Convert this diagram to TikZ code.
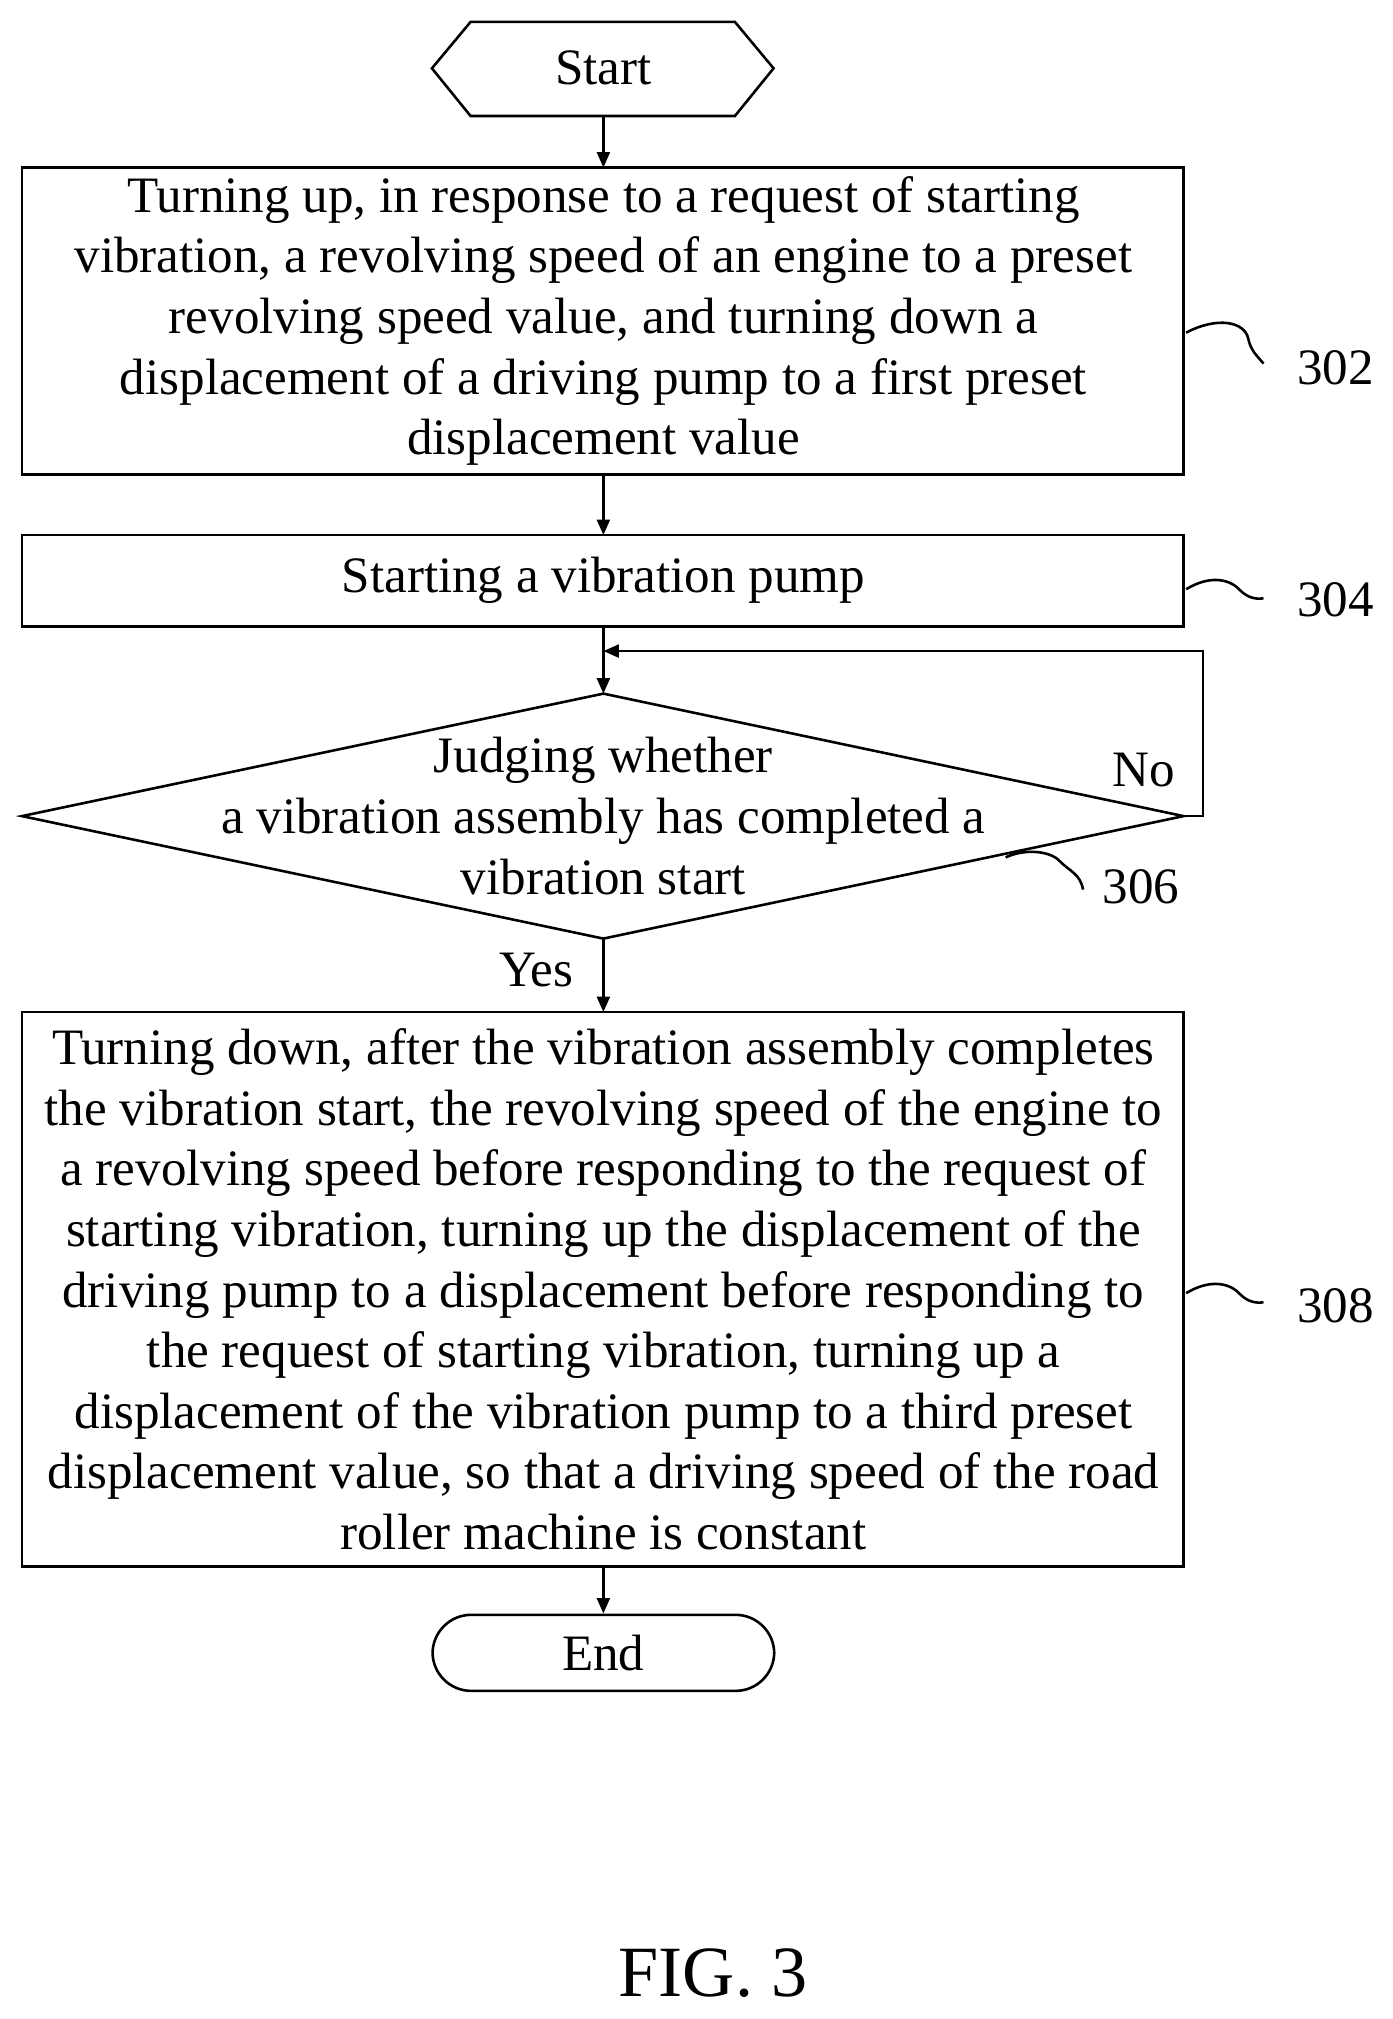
\documentclass[tikz,border=0pt]{standalone}
\usepackage{fontspec}
\setmainfont{Liberation Serif}
\usetikzlibrary{arrows.meta}
\begin{document}
\begin{tikzpicture}[x=0.5pt,y=-0.5pt,
  txt/.style={font=\fontsize{19.8}{23.5}\selectfont, align=center, inner sep=0},
  box/.style={draw, line width=1pt},
  arr/.style={-{Triangle[length=6pt,width=5pt]}, line width=1pt},
  sq/.style={line width=1pt}]
\useasboundingbox (0,0) rectangle (1080,1566);
% Start
\draw[box] (335,53) -- (365,17) -- (570,17) -- (600,53) -- (570,90) -- (365,90) -- cycle;
\node[txt] (start) at (468,53) {Start};
\coordinate (startb) at (468,90);
% 302
\draw[box] (17,130) rectangle (918,368);
\node[txt] (b302) at (468,249) {Turning up, in response to a request of starting\\vibration, a revolving speed of an engine to a preset\\revolving speed value, and turning down a\\displacement of a driving pump to a first preset\\displacement value};
\coordinate (b302t) at (468,130); \coordinate (b302b) at (468,368);
% 304
\draw[box] (17,415) rectangle (918,486);
\node[txt] (b304) at (468,450) {Starting a vibration pump};
\coordinate (b304t) at (468,415); \coordinate (b304b) at (468,486);
% diamond
\draw[box] (17,633) -- (468,538) -- (918,633) -- (468,728) -- cycle;
\node[txt] (d306) at (468,633) {Judging whether\\a vibration assembly has completed a\\vibration start};
\coordinate (dt) at (468,538); \coordinate (db) at (468,728); \coordinate (dr) at (918,633);
% 308
\draw[box] (17,785) rectangle (918,1215);
\node[txt] (b308) at (468,1000) {Turning down, after the vibration assembly completes\\the vibration start, the revolving speed of the engine to\\a revolving speed before responding to the request of\\starting vibration, turning up the displacement of the\\driving pump to a displacement before responding to\\the request of starting vibration, turning up a\\displacement of the vibration pump to a third preset\\displacement value, so that a driving speed of the road\\roller machine is constant};
\coordinate (b308t) at (468,785); \coordinate (b308b) at (468,1215);
% End
\node[draw, line width=1pt, rounded corners=15pt, minimum width=132.5pt, minimum height=29.5pt, txt] (end) at (468,1282) {End};
% arrows
\draw[arr] (startb) -- (b302t);
\draw[arr] (b302b) -- (b304t);
\draw[arr] (b304b) -- (dt);
\draw[arr] (dr) -- (933,633) -- (933,505) -- (468,505);
\draw[arr] (db) -- (b308t);
\draw[arr] (b308b) -- (end.north);
\node[txt] (no) at (887,597) {No};
\node[txt] (yes) at (416,752) {Yes};
% squiggles and labels
\draw[sq] (920,258) .. controls (945,245) and (965,250) .. (968,262) .. controls (970,272) and (975,276) .. (980,282);
\node[txt] (l302) at (1036,285) {302};
\draw[sq] (920,457) .. controls (940,445) and (955,450) .. (962,458) .. controls (968,464) and (975,465) .. (980,464);
\node[txt] (l304) at (1036,465) {304};
\draw[sq] (780,665) .. controls (795,658) and (815,660) .. (822,668) .. controls (830,676) and (838,678) .. (840,690);
\node[txt] (l306) at (885,688) {306};
\draw[sq] (920,1003) .. controls (940,991) and (955,996) .. (962,1004) .. controls (968,1010) and (975,1011) .. (980,1010);
\node[txt] (l308) at (1036,1013) {308};
\node[font=\fontsize{28}{30}\selectfont, inner sep=0] (fig) at (553,1530) {FIG. 3};
\end{tikzpicture}
\end{document}
